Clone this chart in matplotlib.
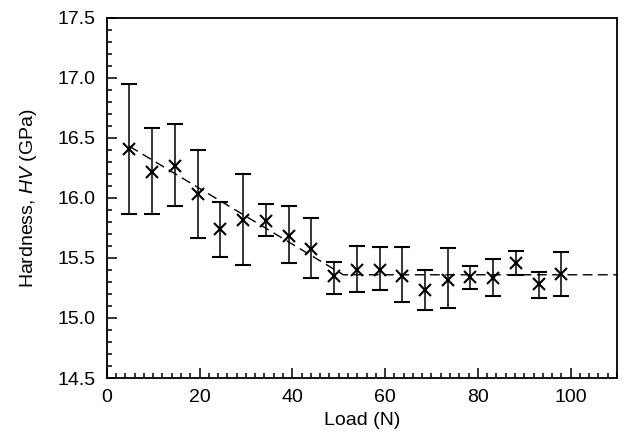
import matplotlib
matplotlib.use("Agg")
import matplotlib.pyplot as plt
from matplotlib.ticker import MultipleLocator

plt.rcParams['font.family'] = ['Liberation Sans', 'DejaVu Sans']
plt.rcParams['mathtext.fontset'] = 'custom'
plt.rcParams['mathtext.it'] = 'Liberation Sans:italic'
plt.rcParams['mathtext.rm'] = 'Liberation Sans'

# Data
load = [4.9, 9.8, 14.7, 19.6, 24.5, 29.4, 34.3, 39.2, 44.1, 49.0,
        53.9, 58.8, 63.7, 68.6, 73.5, 78.4, 83.3, 88.2, 93.1, 98.0]
hardness = [16.41, 16.22, 16.27, 16.03, 15.745, 15.82, 15.81, 15.685, 15.575, 15.35,
            15.40, 15.40, 15.35, 15.23, 15.32, 15.34, 15.33, 15.46, 15.28, 15.37]
err_top = [16.95, 16.58, 16.62, 16.40, 15.97, 16.20, 15.95, 15.93, 15.83, 15.47,
           15.60, 15.59, 15.59, 15.40, 15.58, 15.43, 15.49, 15.56, 15.38, 15.55]
err_bot = [15.87, 15.87, 15.93, 15.67, 15.51, 15.44, 15.68, 15.46, 15.33, 15.20,
           15.22, 15.23, 15.13, 15.07, 15.08, 15.24, 15.18, 15.36, 15.17, 15.18]
fit_load = [4.9, 51.0, 110.0]
fit_h = [16.43, 15.36, 15.36]

yerr = [[h - b for h, b in zip(hardness, err_bot)],
        [t - h for h, t in zip(hardness, err_top)]]

fig = plt.figure(figsize=(6.28, 4.37), dpi=100)
ax = fig.add_axes([0.170, 0.135, 0.8125, 0.824])

ax.plot(fit_load, fit_h, color='black', lw=1.0, dashes=(7, 4))
ax.errorbar(load, hardness, yerr=yerr, fmt='x', color='black', ms=8, mew=1.5,
            ecolor='black', elinewidth=1.1, capsize=5.5, capthick=1.1)

ax.set_xlim(0, 110)
ax.set_ylim(14.5, 17.5)
ax.xaxis.set_major_locator(MultipleLocator(20))
ax.xaxis.set_minor_locator(MultipleLocator(2))
ax.yaxis.set_major_locator(MultipleLocator(0.5))
ax.yaxis.set_minor_locator(MultipleLocator(0.1))
ax.yaxis.set_major_formatter(plt.FormatStrFormatter('%.1f'))
ax.tick_params(which='both', direction='in', top=False, right=False, labelsize=14, width=1.1, pad=8)
ax.tick_params(which='major', length=7)
ax.tick_params(which='minor', length=3.5)
for s in ax.spines.values():
    s.set_linewidth(1.3)

ax.set_xlabel('Load (N)', fontsize=14, labelpad=4)
ax.set_ylabel(r'Hardness, $\mathit{HV}$ (GPa)', fontsize=14, labelpad=13)

fig.savefig('out.png', dpi=100)
